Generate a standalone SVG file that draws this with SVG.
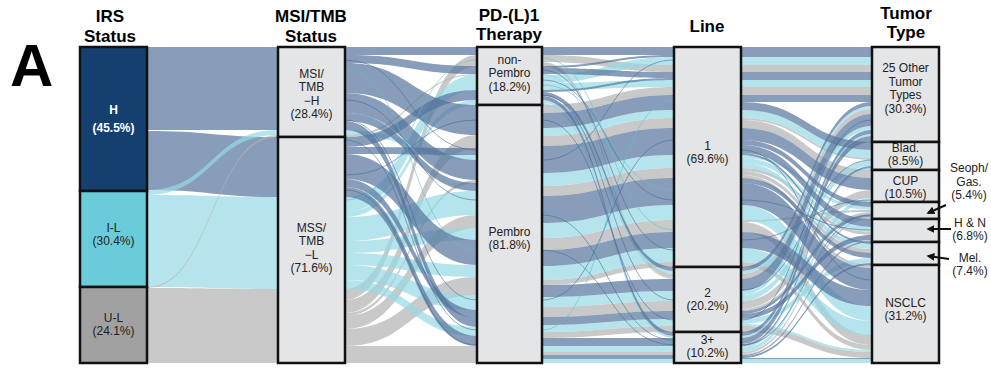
<svg xmlns="http://www.w3.org/2000/svg" width="991" height="370" viewBox="0 0 991 370">
<defs>
<style>
.h{fill:#56739B;fill-opacity:.7}
.i{fill:#95D8E4;fill-opacity:.7}
.u{fill:#B2B2B2;fill-opacity:.7}
.ln{fill:none;stroke:#3F6A96;stroke-width:.8;stroke-opacity:.7}
.lc{fill:none;stroke:#5FBFD0;stroke-width:.8;stroke-opacity:.7}
.box{stroke:#111;stroke-width:2.5}
.g{fill:#E4E5E7}
.hd{font-family:"Liberation Sans",Arial,sans-serif;font-weight:bold;font-size:17px;fill:#000;text-anchor:middle}
.lb{font-family:"Liberation Sans",Arial,sans-serif;font-size:12px;fill:#222;text-anchor:middle}
.lw{font-family:"Liberation Sans",Arial,sans-serif;font-size:12px;font-weight:bold;fill:#fff;text-anchor:middle}
.ar{stroke:#111;stroke-width:2;fill:none}
</style>
<marker id="ah" viewBox="0 0 10 10" refX="8" refY="5" markerWidth="4" markerHeight="4" orient="auto-start-reverse" markerUnits="strokeWidth">
<path d="M0,0 L10,5 L0,10 z" fill="#111"/>
</marker>
</defs>
<rect width="991" height="370" fill="#fff"/>
<text x="10" y="86" font-family="Liberation Sans,Arial,sans-serif" font-weight="bold" font-size="60">A</text>
<g id="headers">
<text class="hd" x="110" y="22">IRS</text><text class="hd" x="110" y="42">Status</text>
<text class="hd" x="311" y="22">MSI/TMB</text><text class="hd" x="311" y="42">Status</text>
<text class="hd" x="509" y="21">PD-(L)1</text><text class="hd" x="509" y="40">Therapy</text>
<text class="hd" x="707" y="32">Line</text>
<text class="hd" x="906" y="19">Tumor</text><text class="hd" x="906" y="38">Type</text>
</g>
<g id="connectors">
<!-- gap 1-2 -->
<path class="h" d="M147 47 C212 47 212 47 278 47 L278 130 C212 130 212 130 147 130Z"/>
<path class="h" d="M147 131 C212 131 212 137 278 137 L278 197 C212 197 212 190 147 190Z"/>
<path class="i" d="M147 195 C212 195 212 197 278 197 L278 289 C212 289 212 287 147 287Z"/>
<path class="u" d="M147 288 C212 288 212 289 278 289 L278 363 C212 363 212 363 147 363Z"/>
<path class="i" d="M147 190 C212 190 212 130 278 130 L278 135 C212 135 212 195 147 195Z"/>
<path class="u" d="M147 287 C212 287 212 135 278 135 L278 137 C212 137 212 288 147 288Z"/>
<!-- gap 2-3 -->
<path class="u" d="M345 289 C411 289 411 55 477 55 L477 66 C411 66 411 300 345 300Z"/>
<path class="u" d="M345 300 C411 300 411 135 477 135 L477 148 C411 148 411 313 345 313Z"/>
<path class="u" d="M345 313 C411 313 411 180 477 180 L477 183 C411 183 411 316 345 316Z"/>
<path class="u" d="M345 316 C411 316 411 215 477 215 L477 228 C411 228 411 329 345 329Z"/>
<path class="u" d="M345 329 C411 329 411 277 477 277 L477 295 C411 295 411 346 345 346Z"/>
<path class="u" d="M345 346 C411 346 411 346 477 346 L477 363 C411 363 411 363 345 363Z"/>
<path class="u" d="M345 135 C411 135 411 74 477 74 L477 75 C411 75 411 137 345 137Z"/>
<path class="i" d="M345 130 C411 130 411 155 477 155 L477 160 C411 160 411 135 345 135Z"/>
<path class="i" d="M345 197 C411 197 411 75 477 75 L477 90 C411 90 411 212 345 212Z"/>
<path class="i" d="M345 212 C411 212 411 100 477 100 L477 105 C411 105 411 217 345 217Z"/>
<path class="i" d="M345 217 C411 217 411 191 477 191 L477 215 C411 215 411 241 345 241Z"/>
<path class="i" d="M345 241 C411 241 411 228 477 228 L477 240 C411 240 411 253 345 253Z"/>
<path class="i" d="M345 253 C411 253 411 265 477 265 L477 277 C411 277 411 265 345 265Z"/>
<path class="i" d="M345 265 C411 265 411 295 477 295 L477 310 C411 310 411 280 345 280Z"/>
<path class="i" d="M345 280 C411 280 411 327 477 327 L477 336 C411 336 411 289 345 289Z"/>
<path class="h" d="M345 47 C411 47 411 47 477 47 L477 55 C411 55 411 55 345 55Z"/>
<path class="h" d="M345 55 C411 55 411 66 477 66 L477 74 C411 74 411 63 345 63Z"/>
<path class="h" d="M345 63 C411 63 411 105 477 105 L477 135 C411 135 411 93 345 93Z"/>
<path class="h" d="M345 93 C411 93 411 160 477 160 L477 180 C411 180 411 113 345 113Z"/>
<path class="h" d="M345 113 C411 113 411 183 477 183 L477 191 C411 191 411 121 345 121Z"/>
<path class="h" d="M345 121 C411 121 411 318 477 318 L477 327 C411 327 411 130 345 130Z"/>
<path class="h" d="M345 137 C411 137 411 90 477 90 L477 100 C411 100 411 147 345 147Z"/>
<path class="h" d="M345 147 C411 147 411 148 477 148 L477 155 C411 155 411 154 345 154Z"/>
<path class="h" d="M345 154 C411 154 411 240 477 240 L477 265 C411 265 411 179 345 179Z"/>
<path class="h" d="M345 179 C411 179 411 310 477 310 L477 318 C411 318 411 187 345 187Z"/>
<path class="h" d="M345 187 C411 187 411 336 477 336 L477 346 C411 346 411 197 345 197Z"/>
<path class="ln" d="M345 120 C411 120 411 300 477 300"/>
<path class="ln" d="M345 140 C411 140 411 330 477 330"/>
<path class="ln" d="M345 100 C411 100 411 200 477 200"/>
<path class="ln" d="M345 175 C411 175 411 120 477 120"/>
<path class="ln" d="M345 60 C411 60 411 150 477 150"/>
<path class="ln" d="M345 190 C411 190 411 345 477 345"/>
<path class="lc" d="M345 70 C411 70 411 250 477 250"/>
<path class="lc" d="M345 200 C411 200 411 60 477 60"/>
<!-- gap 3-4 -->
<path class="u" d="M542 55 C608 55 608 65 674 65 L674 72 C608 72 608 62 542 62Z"/>
<path class="u" d="M542 62 C608 62 608 274 674 274 L674 278 C608 278 608 66 542 66Z"/>
<path class="u" d="M542 74 C608 74 608 278 674 278 L674 279 C608 279 608 75 542 75Z"/>
<path class="u" d="M542 105 C608 105 608 87 674 87 L674 95 C608 95 608 113 542 113Z"/>
<path class="u" d="M542 136 C608 136 608 118 674 118 L674 128 C608 128 608 146 542 146Z"/>
<path class="u" d="M542 186 C608 186 608 168 674 168 L674 178 C608 178 608 196 542 196Z"/>
<path class="u" d="M542 238 C608 238 608 220 674 220 L674 232 C608 232 608 250 542 250Z"/>
<path class="u" d="M542 280 C608 280 608 262 674 262 L674 267 C608 267 608 285 542 285Z"/>
<path class="u" d="M542 307 C608 307 608 301 674 301 L674 311 C608 311 608 317 542 317Z"/>
<path class="u" d="M542 332 C608 332 608 326 674 326 L674 332 C608 332 608 338 542 338Z"/>
<path class="u" d="M542 352 C608 352 608 352 674 352 L674 355 C608 355 608 355 542 355Z"/>
<path class="i" d="M542 75 C608 75 608 57 674 57 L674 65 C608 65 608 83 542 83Z"/>
<path class="i" d="M542 83 C608 83 608 80 674 80 L674 87 C608 87 608 90 542 90Z"/>
<path class="i" d="M542 100 C608 100 608 271 674 271 L674 274 C608 274 608 103 542 103Z"/>
<path class="i" d="M542 103 C608 103 608 336 674 336 L674 338 C608 338 608 105 542 105Z"/>
<path class="i" d="M542 128 C608 128 608 110 674 110 L674 118 C608 118 608 136 542 136Z"/>
<path class="i" d="M542 173 C608 173 608 155 674 155 L674 168 C608 168 608 186 542 186Z"/>
<path class="i" d="M542 223 C608 223 608 205 674 205 L674 220 C608 220 608 238 542 238Z"/>
<path class="i" d="M542 266 C608 266 608 248 674 248 L674 262 C608 262 608 280 542 280Z"/>
<path class="i" d="M542 297 C608 297 608 291 674 291 L674 301 C608 301 608 307 542 307Z"/>
<path class="i" d="M542 325 C608 325 608 319 674 319 L674 326 C608 326 608 332 542 332Z"/>
<path class="i" d="M542 346 C608 346 608 346 674 346 L674 352 C608 352 608 352 542 352Z"/>
<path class="i" d="M542 359 C608 359 608 359 674 359 L674 363 C608 363 608 363 542 363Z"/>
<path class="h" d="M542 47 C608 47 608 47 674 47 L674 55 C608 55 608 55 542 55Z"/>
<path class="h" d="M542 66 C608 66 608 55 674 55 L674 57 C608 57 608 68 542 68Z"/>
<path class="h" d="M542 68 C608 68 608 72 674 72 L674 78 C608 78 608 74 542 74Z"/>
<path class="h" d="M542 90 C608 90 608 78 674 78 L674 80 C608 80 608 92 542 92Z"/>
<path class="h" d="M542 92 C608 92 608 267 674 267 L674 271 C608 271 608 96 542 96Z"/>
<path class="h" d="M542 96 C608 96 608 332 674 332 L674 336 C608 336 608 100 542 100Z"/>
<path class="h" d="M542 113 C608 113 608 95 674 95 L674 110 C608 110 608 128 542 128Z"/>
<path class="h" d="M542 146 C608 146 608 128 674 128 L674 155 C608 155 608 173 542 173Z"/>
<path class="h" d="M542 196 C608 196 608 178 674 178 L674 205 C608 205 608 223 542 223Z"/>
<path class="h" d="M542 250 C608 250 608 232 674 232 L674 248 C608 248 608 266 542 266Z"/>
<path class="h" d="M542 285 C608 285 608 279 674 279 L674 291 C608 291 608 297 542 297Z"/>
<path class="h" d="M542 317 C608 317 608 311 674 311 L674 319 C608 319 608 325 542 325Z"/>
<path class="h" d="M542 338 C608 338 608 338 674 338 L674 346 C608 346 608 346 542 346Z"/>
<path class="h" d="M542 355 C608 355 608 355 674 355 L674 359 C608 359 608 359 542 359Z"/>
<path class="ln" d="M542 70 C608 70 608 250 674 250"/>
<path class="ln" d="M542 95 C608 95 608 300 674 300"/>
<path class="ln" d="M542 160 C608 160 608 60 674 60"/>
<path class="ln" d="M542 300 C608 300 608 140 674 140"/>
<path class="ln" d="M542 250 C608 250 608 345 674 345"/>
<path class="ln" d="M542 120 C608 120 608 320 674 320"/>
<path class="ln" d="M542 80 C608 80 608 200 674 200"/>
<path class="ln" d="M542 215 C608 215 608 340 674 340"/>
<path class="lc" d="M542 85 C608 85 608 190 674 190"/>
<path class="lc" d="M542 330 C608 330 608 100 674 100"/>
<path class="lc" d="M542 58 C608 58 608 230 674 230"/>
<!-- gap 4-5 -->
<path class="u" d="M741 65 C806 65 806 65 872 65 L872 72 C806 72 806 72 741 72Z"/>
<path class="u" d="M741 87 C806 87 806 87 872 87 L872 95 C806 95 806 95 741 95Z"/>
<path class="u" d="M741 118 C806 118 806 158 872 158 L872 160 C806 160 806 120 741 120Z"/>
<path class="u" d="M741 120 C806 120 806 170 872 170 L872 178 C806 178 806 128 741 128Z"/>
<path class="u" d="M741 168 C806 168 806 232 872 232 L872 235 C806 235 806 171 741 171Z"/>
<path class="u" d="M741 171 C806 171 806 249 872 249 L872 253 C806 253 806 175 741 175Z"/>
<path class="u" d="M741 175 C806 175 806 265 872 265 L872 268 C806 268 806 178 741 178Z"/>
<path class="u" d="M741 220 C806 220 806 210 872 210 L872 212 C806 212 806 222 741 222Z"/>
<path class="u" d="M741 222 C806 222 806 335 872 335 L872 345 C806 345 806 232 741 232Z"/>
<path class="u" d="M741 262 C806 262 806 345 872 345 L872 350 C806 350 806 267 741 267Z"/>
<path class="u" d="M741 274 C806 274 806 109 872 109 L872 114 C806 114 806 279 741 279Z"/>
<path class="u" d="M741 301 C806 301 806 190 872 190 L872 198 C806 198 806 309 741 309Z"/>
<path class="u" d="M741 309 C806 309 806 212 872 212 L872 214 C806 214 806 311 741 311Z"/>
<path class="u" d="M741 326 C806 326 806 352 872 352 L872 358 C806 358 806 332 741 332Z"/>
<path class="u" d="M741 352 C806 352 806 217 872 217 L872 219 C806 219 806 354 741 354Z"/>
<path class="u" d="M741 354 C806 354 806 240 872 240 L872 241 C806 241 806 355 741 355Z"/>
<path class="i" d="M741 57 C806 57 806 57 872 57 L872 65 C806 65 806 65 741 65Z"/>
<path class="i" d="M741 80 C806 80 806 80 872 80 L872 87 C806 87 806 87 741 87Z"/>
<path class="i" d="M741 110 C806 110 806 150 872 150 L872 158 C806 158 806 118 741 118Z"/>
<path class="i" d="M741 155 C806 155 806 207 872 207 L872 210 C806 210 806 158 741 158Z"/>
<path class="i" d="M741 158 C806 158 806 227 872 227 L872 232 C806 232 806 163 741 163Z"/>
<path class="i" d="M741 163 C806 163 806 244 872 244 L872 249 C806 249 806 168 741 168Z"/>
<path class="i" d="M741 205 C806 205 806 306 872 306 L872 321 C806 321 806 220 741 220Z"/>
<path class="i" d="M741 248 C806 248 806 321 872 321 L872 335 C806 335 806 262 741 262Z"/>
<path class="i" d="M741 271 C806 271 806 106 872 106 L872 109 C806 109 806 274 741 274Z"/>
<path class="i" d="M741 291 C806 291 806 126 872 126 L872 130 C806 130 806 295 741 295Z"/>
<path class="i" d="M741 295 C806 295 806 160 872 160 L872 166 C806 166 806 301 741 301Z"/>
<path class="i" d="M741 319 C806 319 806 258 872 258 L872 263 C806 263 806 324 741 324Z"/>
<path class="i" d="M741 324 C806 324 806 350 872 350 L872 352 C806 352 806 326 741 326Z"/>
<path class="i" d="M741 336 C806 336 806 134 872 134 L872 136 C806 136 806 338 741 338Z"/>
<path class="i" d="M741 346 C806 346 806 168 872 168 L872 170 C806 170 806 348 741 348Z"/>
<path class="i" d="M741 348 C806 348 806 198 872 198 L872 202 C806 202 806 352 741 352Z"/>
<path class="i" d="M741 359 C806 359 806 359 872 359 L872 363 C806 363 806 363 741 363Z"/>
<path class="h" d="M741 47 C806 47 806 47 872 47 L872 57 C806 57 806 57 741 57Z"/>
<path class="h" d="M741 72 C806 72 806 72 872 72 L872 80 C806 80 806 80 741 80Z"/>
<path class="h" d="M741 95 C806 95 806 95 872 95 L872 102 C806 102 806 102 741 102Z"/>
<path class="h" d="M741 102 C806 102 806 142 872 142 L872 150 C806 150 806 110 741 110Z"/>
<path class="h" d="M741 128 C806 128 806 178 872 178 L872 190 C806 190 806 140 741 140Z"/>
<path class="h" d="M741 140 C806 140 806 202 872 202 L872 207 C806 207 806 145 741 145Z"/>
<path class="h" d="M741 145 C806 145 806 219 872 219 L872 227 C806 227 806 153 741 153Z"/>
<path class="h" d="M741 153 C806 153 806 242 872 242 L872 244 C806 244 806 155 741 155Z"/>
<path class="h" d="M741 178 C806 178 806 253 872 253 L872 258 C806 258 806 183 741 183Z"/>
<path class="h" d="M741 183 C806 183 806 268 872 268 L872 290 C806 290 806 205 741 205Z"/>
<path class="h" d="M741 232 C806 232 806 290 872 290 L872 306 C806 306 806 248 741 248Z"/>
<path class="h" d="M741 267 C806 267 806 102 872 102 L872 106 C806 106 806 271 741 271Z"/>
<path class="h" d="M741 279 C806 279 806 114 872 114 L872 126 C806 126 806 291 741 291Z"/>
<path class="h" d="M741 311 C806 311 806 214 872 214 L872 217 C806 217 806 314 741 314Z"/>
<path class="h" d="M741 314 C806 314 806 235 872 235 L872 240 C806 240 806 319 741 319Z"/>
<path class="h" d="M741 332 C806 332 806 130 872 130 L872 134 C806 134 806 336 741 336Z"/>
<path class="h" d="M741 338 C806 338 806 136 872 136 L872 142 C806 142 806 344 741 344Z"/>
<path class="h" d="M741 344 C806 344 806 166 872 166 L872 168 C806 168 806 346 741 346Z"/>
<path class="h" d="M741 355 C806 355 806 241 872 241 L872 242 C806 242 806 356 741 356Z"/>
<path class="h" d="M741 356 C806 356 806 263 872 263 L872 265 C806 265 806 358 741 358Z"/>
<path class="h" d="M741 358 C806 358 806 358 872 358 L872 359 C806 359 806 359 741 359Z"/>
<path class="ln" d="M741 290 C806 290 806 160 872 160"/>
<path class="ln" d="M741 240 C806 240 806 200 872 200"/>
<path class="ln" d="M741 150 C806 150 806 280 872 280"/>
<path class="ln" d="M741 320 C806 320 806 120 872 120"/>
<path class="ln" d="M741 200 C806 200 806 230 872 230"/>
<path class="ln" d="M741 345 C806 345 806 215 872 215"/>
</g>
<g id="node-H"><rect class="box" x="80" y="47" width="67" height="144" fill="#143F6F"/><text class="lw" x="113.5" y="114">H</text><text class="lw" x="113.5" y="132">(45.5%)</text></g>
<g id="node-IL"><rect class="box" x="80" y="191" width="67" height="96" fill="#6ACCDB"/><text class="lb" x="113.5" y="231.75">I-L</text><text class="lb" x="113.5" y="245.25">(30.4%)</text></g>
<g id="node-UL"><rect class="box" x="80" y="287" width="67" height="76" fill="#A1A1A1"/><text class="lb" x="113.5" y="321.75">U-L</text><text class="lb" x="113.5" y="335.25">(24.1%)</text></g>
<g id="node-MSIH"><rect class="box g" x="278" y="47" width="67" height="90"/><text class="lb" x="311.5" y="77.5">MSI/</text><text class="lb" x="311.5" y="91">TMB</text><text class="lb" x="311.5" y="104.5">−H</text><text class="lb" x="311.5" y="118">(28.4%)</text></g>
<g id="node-MSS"><rect class="box g" x="278" y="137" width="67" height="226"/><text class="lb" x="311.5" y="231.5">MSS/</text><text class="lb" x="311.5" y="245">TMB</text><text class="lb" x="311.5" y="258.5">−L</text><text class="lb" x="311.5" y="272">(71.6%)</text></g>
<g id="node-nonPembro"><rect class="box g" x="477" y="47" width="65" height="58"/><text class="lb" x="509.5" y="63.5">non-</text><text class="lb" x="509.5" y="77">Pembro</text><text class="lb" x="509.5" y="90.5">(18.2%)</text></g>
<g id="node-Pembro"><rect class="box g" x="477" y="105" width="65" height="258"/><text class="lb" x="509.5" y="235.5">Pembro</text><text class="lb" x="509.5" y="249">(81.8%)</text></g>
<g id="node-L1"><rect class="box g" x="674" y="47" width="67" height="220"/><text class="lb" x="707.5" y="149.5">1</text><text class="lb" x="707.5" y="163">(69.6%)</text></g>
<g id="node-L2"><rect class="box g" x="674" y="267" width="67" height="65"/><text class="lb" x="707.5" y="296.5">2</text><text class="lb" x="707.5" y="310">(20.2%)</text></g>
<g id="node-L3"><rect class="box g" x="674" y="332" width="67" height="31"/><text class="lb" x="707.5" y="343.5">3+</text><text class="lb" x="707.5" y="357">(10.2%)</text></g>
<g id="node-Other"><rect class="box g" x="872" y="47" width="67" height="95"/><text class="lb" x="905.5" y="72">25 Other</text><text class="lb" x="905.5" y="85.5">Tumor</text><text class="lb" x="905.5" y="99">Types</text><text class="lb" x="905.5" y="112.5">(30.3%)</text></g>
<g id="node-Blad"><rect class="box g" x="872" y="142" width="67" height="28"/><text class="lb" x="905.5" y="151.5">Blad.</text><text class="lb" x="905.5" y="165">(8.5%)</text></g>
<g id="node-CUP"><rect class="box g" x="872" y="170" width="67" height="32"/><text class="lb" x="905.5" y="184.5">CUP</text><text class="lb" x="905.5" y="198">(10.5%)</text></g>
<g id="node-Seoph"><rect class="box g" x="872" y="202" width="67" height="17"/></g>
<g id="node-HN"><rect class="box g" x="872" y="219" width="67" height="23"/></g>
<g id="node-Mel"><rect class="box g" x="872" y="242" width="67" height="23"/></g>
<g id="node-NSCLC"><rect class="box g" x="872" y="265" width="67" height="98"/><text class="lb" x="905.5" y="306.5">NSCLC</text><text class="lb" x="905.5" y="320">(31.2%)</text></g>
<g id="callouts">
<text class="lb" x="969" y="172">Seoph/</text><text class="lb" x="969" y="185.5">Gas.</text><text class="lb" x="969" y="199">(5.4%)</text>
<path class="ar" d="M946 205 L928 213" marker-end="url(#ah)"/>
<text class="lb" x="970" y="226.75">H &amp; N</text><text class="lb" x="970" y="240.25">(6.8%)</text>
<path class="ar" d="M951 229 L928 229" marker-end="url(#ah)"/>
<text class="lb" x="970" y="261.75">Mel.</text><text class="lb" x="970" y="275.25">(7.4%)</text>
<path class="ar" d="M949 259 L928 256" marker-end="url(#ah)"/>
</g>
</svg>
